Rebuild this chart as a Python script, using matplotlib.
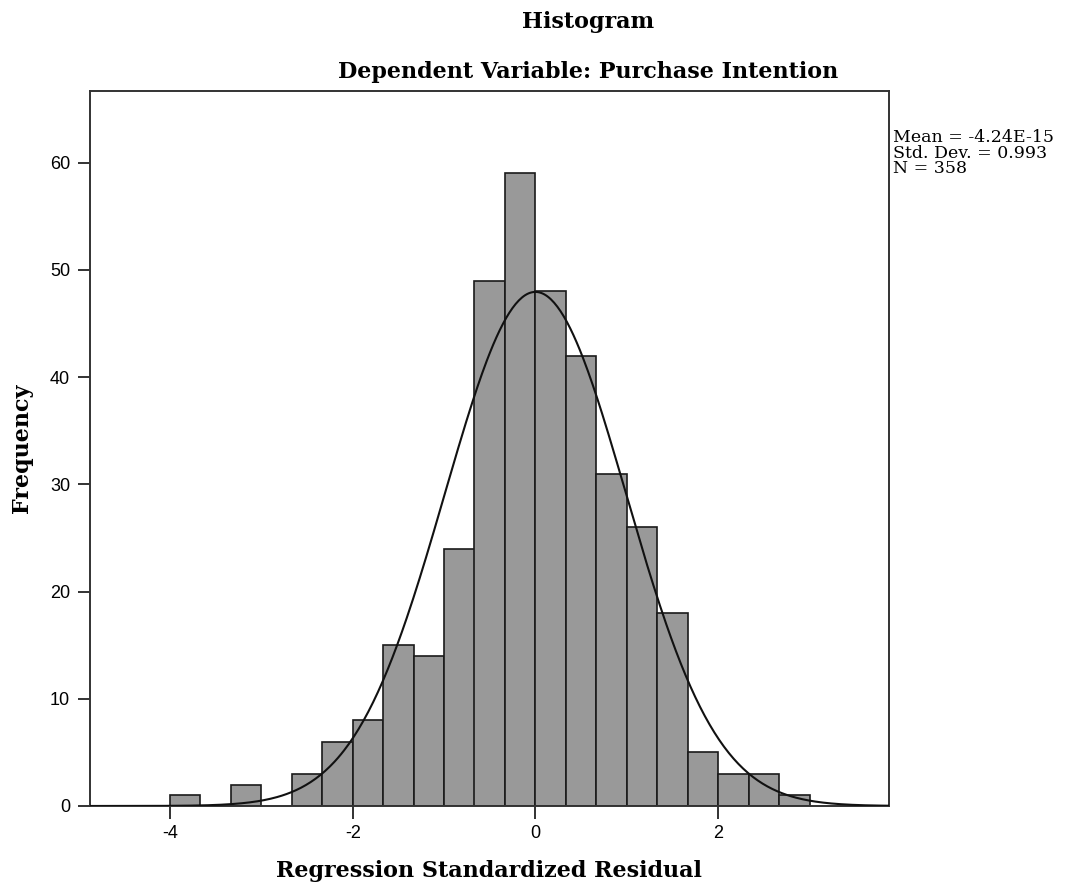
import matplotlib
matplotlib.use("Agg")
import matplotlib.pyplot as plt
import numpy as np

# bins of the residual histogram (left edge, width 1/3)
bin_left = [-4.0, -3.333, -2.667, -2.333, -2.0, -1.667, -1.333, -1.0, -0.667,
            -0.333, 0.0, 0.333, 0.667, 1.0, 1.333, 1.667, 2.0, 2.333, 2.667]
counts = [1, 2, 3, 6, 8, 15, 14, 24, 49, 59, 48, 42, 31, 26, 18, 5, 3, 3, 1]
bin_w = 1 / 3

mean = -4.24e-15
sd = 0.993
n = 358

xticks = [-4, -2, 0, 2]
yticks = [0, 10, 20, 30, 40, 50, 60]

serif = ["DejaVu Serif"]
sans = ["Liberation Sans", "DejaVu Sans"]

fig = plt.figure(figsize=(10.75, 8.9), dpi=100)
ax = fig.add_axes([0.0833, 0.0944, 0.7437, 0.8036])

ax.bar(bin_left, counts, width=bin_w, align="edge", color="#999999",
       edgecolor="#1a1a1a", linewidth=1.2, zorder=2)

# normal curve scaled to the histogram
xs = np.linspace(-4.88, 3.87, 500)
ys = n * bin_w * np.exp(-0.5 * ((xs - mean) / sd) ** 2) / (sd * np.sqrt(2 * np.pi))
ax.plot(xs, ys, color="#111111", linewidth=1.5, zorder=3)

ax.set_xlim(-4.88, 3.87)
ax.set_ylim(0, 66.7)
ax.set_xticks(xticks)
ax.set_yticks(yticks)
ax.set_xticklabels([str(t) for t in xticks], family=sans, fontsize=13)
ax.set_yticklabels([str(t) for t in yticks], family=sans, fontsize=13)
ax.tick_params(direction="out", length=9, width=1.3, color="#222222", pad=5)

for s in ax.spines.values():
    s.set_color("#333333")
    s.set_linewidth(1.4)

ax.set_xlabel("Regression Standardized Residual", family=serif, fontweight="bold",
              fontsize=16, labelpad=13)
ax.set_ylabel("Frequency", family=serif, fontweight="bold", fontsize=16, labelpad=12)

fig.text(0.547, 0.975, "Histogram", family=serif, fontweight="bold",
         fontsize=16, ha="center", va="center")
fig.text(0.547, 0.919, "Dependent Variable: Purchase Intention", family=serif,
         fontweight="bold", fontsize=16, ha="center", va="center")

fig.text(0.831, 0.855, "Mean = -4.24E-15\nStd. Dev. = 0.993\nN = 358",
         family=serif, fontsize=12.5, ha="left", va="top", linespacing=0.9)

fig.savefig("out.png", dpi=100)
